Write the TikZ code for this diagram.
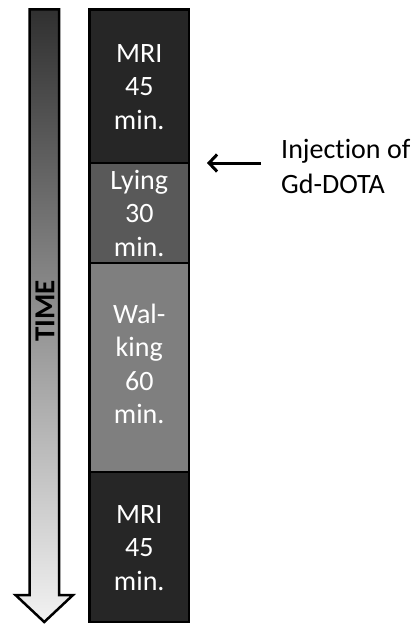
\documentclass[tikz,border=0pt]{standalone}
\usepackage{fontspec}
\setmainfont{Carlito}[RawFeature={-liga;-clig;-calt;-dlig}]
\usetikzlibrary{arrows.meta}
\definecolor{mri}{HTML}{262626}
\definecolor{lying}{HTML}{595959}
\definecolor{walk}{HTML}{7F7F7F}
\definecolor{shtop}{HTML}{303030}
\definecolor{shmid}{HTML}{B4B4B4}
\definecolor{shbot}{HTML}{F2F2F2}
\tikzset{
  phase/.style={draw=black, line width=2.5pt},
  phasetext/.style={text=white, font=\fontsize{28}{33.5}\selectfont, align=center, inner sep=0pt},
  timearrow/.style={draw=black, line width=2.5pt, top color=shtop, middle color=shmid, bottom color=shbot, line join=miter},
}
\begin{document}
\begin{tikzpicture}[x=1pt,y=-1pt]
\useasboundingbox (0,0) rectangle (415,626);
% time arrow
\path[timearrow] (29.5,9.5) -- (59,9.5) -- (59,595) -- (73,595) -- (44.25,622) -- (15.5,595) -- (29.5,595) -- cycle;
\node[rotate=90, font=\bfseries\fontsize{29}{32}\selectfont, inner sep=0pt] (time) at (45,311) {TIME};
% phases
\draw[phase, fill=mri] (89.5,9.5) rectangle (189,163);
\draw[phase, fill=lying] (89.5,163) rectangle (189,263);
\draw[phase, fill=walk] (89.5,263) rectangle (189,472);
\draw[phase, fill=mri] (89.5,472) rectangle (189,622);
\node[phasetext] (mri1) at (139.25,87) {MRI\\45\\min.};
\node[phasetext] (lying) at (139.25,213) {Lying\\30\\min.};
\node[phasetext] (walking) at (139.25,364) {Wal-\\king\\60\\min.};
\node[phasetext] (mri2) at (139.25,548) {MRI\\45\\min.};
% injection
\node[anchor=west, align=left, inner sep=0pt, font=\fontsize{28}{35}\selectfont] (inj) at (281,166) {Injection of\\Gd-DOTA};
\coordinate (injtail) at (261,163);
\coordinate (injtip) at (207,163);
\draw[line width=3pt, -{Straight Barb[length=8pt,width=17pt,line width=3pt]}] (injtail) -- (injtip);
\end{tikzpicture}
\end{document}
